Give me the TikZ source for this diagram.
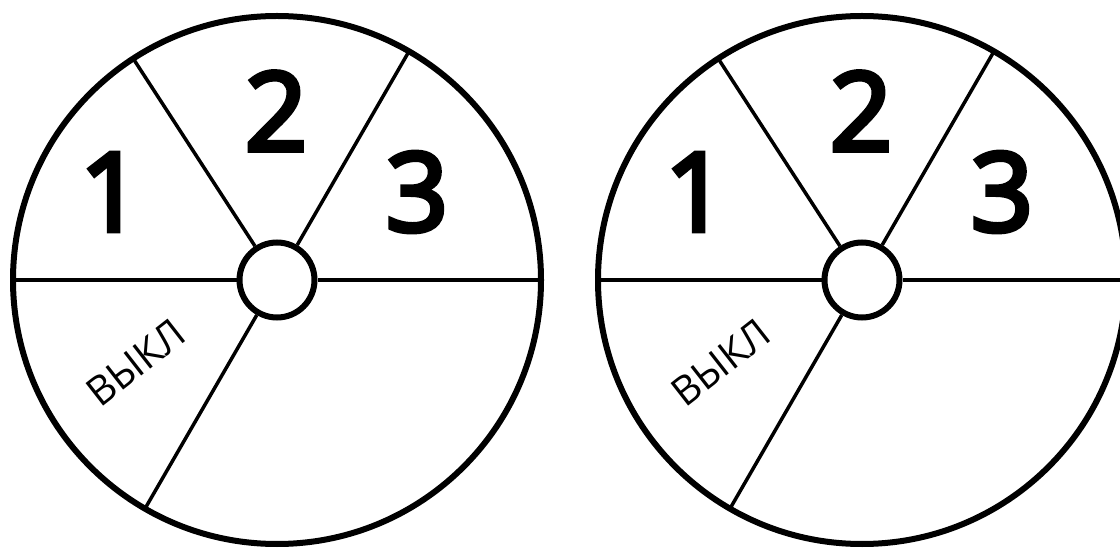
\documentclass[tikz,border=0pt]{standalone}
\usepackage{fontspec}
\setmainfont{Open Sans}
\newfontfamily\digitfont{Open Sans}[FakeBold=4.5]
\usepackage{tikz}

\begin{document}
\begin{tikzpicture}[x=1pt,y=1pt,
  rim/.style={line width=6pt},
  spoke/.style={line width=3.5pt},
  hub/.style={circle,draw,line width=6pt,fill=white,minimum size=75pt,inner sep=0pt},
  digit/.style={font=\digitfont\fontsize{109}{109}\selectfont,inner sep=0pt},
  offlabel/.style={font=\fontsize{40}{40}\selectfont,inner sep=0pt,rotate=38}]
\useasboundingbox (0,0) rectangle (1120,547);
\foreach \nm/\cx in {L/277,R/862}{
  \draw[rim] (\cx,267) circle[radius=264];
  \node[hub] (hub\nm) at (\cx,267) {};
  % spokes from hub to rim
  \foreach \a in {0,60,123,180,240}{
    \coordinate (rim\nm\a) at ([shift={(\a:264)}]hub\nm.center);
    \draw[spoke] (hub\nm.\a) -- (rim\nm\a);
  }
  \node[digit] (one\nm) at (\cx-166,355) {1};
  \node[digit] (two\nm) at (\cx-1,436) {2};
  \node[digit] (three\nm) at (\cx+140,355) {3};
  \node[offlabel] (off\nm) at (\cx-141,184) {ВЫКЛ};
}
\end{tikzpicture}
\end{document}
